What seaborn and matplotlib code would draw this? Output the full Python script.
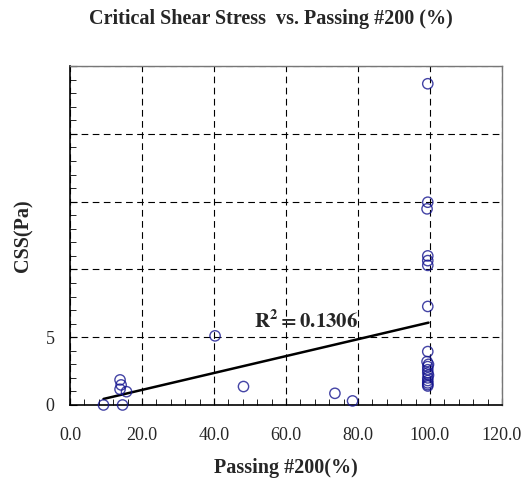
import numpy as np
import pandas as pd
import matplotlib
matplotlib.use("Agg")
import matplotlib.pyplot as plt
from matplotlib.ticker import MultipleLocator, FixedLocator
import seaborn as sns

# Passing #200 (%) and critical shear stress (Pa)
passing = [9.3, 14.6, 13.9, 14.2, 13.9, 15.7, 40.3, 48.2, 73.6, 78.5,
           99.4, 99.4, 99.2, 99.4, 99.4, 99.4, 99.4,
           99.4, 99.2, 99.6, 99.4, 99.4, 99.4, 99.6, 99.4, 99.4, 99.4, 99.4, 99.4]
css = [0.0, 0.0, 1.85, 1.48, 1.16, 0.98, 5.1, 1.36, 0.86, 0.3,
       23.7, 14.96, 14.47, 11.0, 10.65, 10.3, 7.27,
       3.94, 3.2, 3.0, 2.83, 2.6, 2.37, 2.2, 2.0, 1.8, 1.63, 1.5, 1.4]
r2_label = r"$\mathbf{R^2 = 0.1306}$"

x_ticks = [0, 20, 40, 60, 80, 100, 120]
x_labels = ["0.0", "20.0", "40.0", "60.0", "80.0", "100.0", "120.0"]
y_ticks = [0, 5, 10, 15, 20, 25]
y_labels = ["0", "5", "", "", "", ""]

df = pd.DataFrame({"passing": passing, "css": css})

sns.set_style("white")
plt.rcParams["font.family"] = ["Liberation Serif", "DejaVu Serif"]
plt.rcParams["mathtext.fontset"] = "stix"

fig = plt.figure(figsize=(5.28, 4.82), dpi=100)
ax = fig.add_axes([0.1326, 0.1598, 0.818, 0.703])

sns.regplot(data=df, x="passing", y="css", ax=ax, ci=None, truncate=True,
            scatter_kws=dict(s=55, facecolors="none", edgecolors="#15158f",
                             linewidths=1.0, zorder=4, clip_on=False),
            line_kws=dict(color="black", lw=1.8, zorder=3))

ax.set_xlim(0, 120)
ax.set_ylim(0, 25)
ax.xaxis.set_major_locator(FixedLocator(x_ticks))
ax.set_xticklabels(x_labels)
ax.xaxis.set_minor_locator(MultipleLocator(4))
ax.yaxis.set_major_locator(FixedLocator(y_ticks))
ax.set_yticklabels(y_labels)
ax.yaxis.set_minor_locator(MultipleLocator(1))
ax.tick_params(which="both", direction="in", labelsize=13, color="black")
ax.tick_params(which="major", length=5)
ax.tick_params(which="minor", length=4)
ax.tick_params(axis="x", which="both", bottom=True, top=False, pad=16)
ax.tick_params(axis="y", which="both", left=True, right=False, pad=11)

ax.grid(True, which="major", color="black", linestyle=(0, (6, 4)), lw=0.8)
ax.set_axisbelow(True)

for side in ["left", "bottom"]:
    ax.spines[side].set_color("black")
    ax.spines[side].set_linewidth(1.2)
for side in ["top", "right"]:
    ax.spines[side].set_color("#777777")
    ax.spines[side].set_linewidth(1.0)

ax.text(65.5, 6.15, r2_label, fontsize=15, ha="center", va="center", zorder=5)

ax.set_xlabel("Passing #200(%)", fontsize=14.5, fontweight="bold", labelpad=10)
ax.set_ylabel("CSS(Pa)", fontsize=14.5, fontweight="bold", labelpad=9)
fig.text(0.513, 0.9616, "Critical Shear Stress  vs. Passing #200 (%)",
         fontsize=14.5, fontweight="bold", ha="center", va="center")

fig.savefig("out.png", dpi=100)
